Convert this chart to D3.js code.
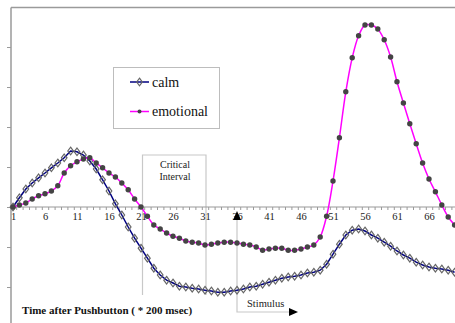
<!DOCTYPE html>
<html>
<head>
<meta charset="utf-8">
<script src="https://cdn.jsdelivr.net/npm/d3@7"></script>
<style>
html,body{margin:0;padding:0;background:#fff;overflow:hidden;}
svg{display:block;}
svg text{font-family:"Liberation Serif","Times New Roman","DejaVu Serif",serif;}
</style>
</head>
<body>
<svg id="chart" width="455" height="323"></svg>
<script>
// ---- data ----
const categories = d3.range(1, 71);
const tickLabels = ["1","6","11","16","21","26","31","36","41","46","51","56","61","66"];
const calm = [0,0.23,0.45,0.6,0.73,0.85,0.98,1.1,1.23,1.4,
  1.38,1.3,1.15,0.95,0.68,0.4,0.08,-0.2,-0.5,-0.78,
  -1.03,-1.28,-1.53,-1.7,-1.83,-1.9,-1.98,-2.0,-2.03,-2.05,
  -2.08,-2.1,-2.13,-2.13,-2.1,-2.08,-2.05,-2.0,-1.98,-1.93,
  -1.88,-1.83,-1.78,-1.75,-1.73,-1.7,-1.65,-1.63,-1.58,-1.43,
  -1.18,-0.93,-0.7,-0.58,-0.55,-0.6,-0.7,-0.78,-0.88,-0.98,
  -1.1,-1.2,-1.28,-1.38,-1.45,-1.5,-1.53,-1.55,-1.58,-1.63];
const emotional = [0,0.05,0.1,0.2,0.28,0.33,0.4,0.53,0.85,1.03,
  1.13,1.2,1.23,1.1,0.98,0.85,0.75,0.6,0.43,0.2,
  0,-0.23,-0.45,-0.55,-0.65,-0.73,-0.78,-0.85,-0.88,-0.9,
  -0.95,-0.93,-0.9,-0.88,-0.88,-0.9,-0.93,-0.95,-1.0,-1.08,
  -1.05,-1.03,-1.03,-1.08,-1.08,-1.05,-1.0,-0.95,-0.75,-0.23,
  0.65,1.73,2.88,3.73,4.28,4.55,4.55,4.45,4.18,3.75,
  3.13,2.6,2.08,1.58,1.1,0.7,0.38,0.05,-0.25,-0.45];
const yTicks = [-2,-1,0,1,2,3,4];
const seriesNames = ["calm","emotional"];
const criticalStart = 21, criticalEnd = 31, stimulusAt = 36;

// ---- scales ----
const svg = d3.select("#chart");
const x = d3.scaleLinear().domain([1, 70]).range([13, 454.6]);
const y = d3.scaleLinear().domain([-2.9, 5]).range([323, 7]);
const serif = '"Liberation Serif","Times New Roman","DejaVu Serif",serif';
const axisGray = "#9a9a9a";

function txt(sel) { return sel.style("font-family", serif); }

// frame: top border
svg.append("line").attr("x1", 11).attr("x2", 455).attr("y1", 7.5).attr("y2", 7.5)
  .attr("stroke", axisGray).attr("stroke-width", 1.5);

// y axis
const yAxis = svg.append("g").attr("transform", "translate(11,0)")
  .call(d3.axisLeft(y).tickValues(yTicks).tickSize(4).tickFormat(""));
yAxis.select(".domain").attr("stroke", axisGray).attr("stroke-width", 1.5).attr("d", "M0,7.5V323");
yAxis.selectAll(".tick line").attr("stroke", axisGray);

// critical interval box
svg.append("path")
  .attr("d", `M${x(criticalStart)+1.5},295V155H${x(criticalEnd)+1}V295`)
  .attr("fill", "none").attr("stroke", "#c8c8c8").attr("stroke-width", 1.2);
txt(svg.append("text").attr("x", (x(criticalStart)+x(criticalEnd))/2 + 2).attr("y", 168)
  .attr("text-anchor", "middle").attr("font-size", 10)
  .attr("fill", "#222").text("Critical"));
txt(svg.append("text").attr("x", (x(criticalStart)+x(criticalEnd))/2 + 2).attr("y", 180)
  .attr("text-anchor", "middle").attr("font-size", 10)
  .attr("fill", "#222").text("Interval"));

// x axis
const xAxisMinor = svg.append("g").attr("transform", `translate(0,${y(0)})`)
  .call(d3.axisBottom(x).tickValues(categories.map(c => c + 0.5)).tickSize(3).tickFormat(""));
xAxisMinor.select(".domain").attr("stroke", axisGray).attr("stroke-width", 1.2).attr("d", "M11,0H455");
xAxisMinor.selectAll(".tick line").attr("stroke", axisGray);
const xAxisLab = svg.append("g").attr("transform", `translate(0,${y(0)})`)
  .call(d3.axisBottom(x).tickValues(tickLabels.map(Number)).tickSize(0).tickPadding(6)
    .tickFormat((d, i) => tickLabels[i]));
xAxisLab.attr("font-family", null);
xAxisLab.select(".domain").remove();
txt(xAxisLab.selectAll("text")).attr("font-size", 10.5).attr("fill", "#222");

// stimulus marker
const sx = x(stimulusAt);
svg.append("path").attr("d", `M${sx},220V312H291`)
  .attr("fill", "none").attr("stroke", "#c8c8c8").attr("stroke-width", 1.2);
svg.append("path").attr("d", `M${sx},211L${sx+4},220L${sx-4},220Z`).attr("fill", "#000");
svg.append("path").attr("d", `M298,312L289,308L289,316Z`).attr("fill", "#000");
txt(svg.append("text").attr("x", 247).attr("y", 307).attr("font-size", 10.5)
  .attr("fill", "#222").text("Stimulus"));

// lines
const calmLine = d3.line().x((d, i) => x(categories[i])).y(d => y(d));
const emoLine = d3.line().x((d, i) => x(categories[i])).y(d => y(d)).curve(d3.curveCatmullRom.alpha(0.5));

const diamond = "M0,-3.8L2.8,0L0,3.8L-2.8,0Z";

svg.append("path").datum(calm).attr("d", calmLine)
  .attr("fill", "none").attr("stroke", "#000080").attr("stroke-width", 1.5);
svg.append("g").selectAll("path").data(calm).join("path")
  .attr("d", diamond)
  .attr("transform", (d, i) => `translate(${x(categories[i])},${y(d)})`)
  .attr("fill", "none").attr("stroke", "#666").attr("stroke-width", 1.2);

svg.append("path").datum(emotional).attr("d", emoLine)
  .attr("fill", "none").attr("stroke", "#ff00ff").attr("stroke-width", 1.5);
svg.append("g").selectAll("circle").data(emotional).join("circle")
  .attr("cx", (d, i) => x(categories[i])).attr("cy", d => y(d)).attr("r", 2.7)
  .attr("fill", "#444");

// legend
const lg = svg.append("g");
lg.append("rect").attr("x", 113.5).attr("y", 67.5).attr("width", 106).attr("height", 61)
  .attr("fill", "#fff").attr("stroke", "#bdbdbd").attr("stroke-width", 1);
lg.append("line").attr("x1", 130).attr("x2", 149).attr("y1", 82).attr("y2", 82)
  .attr("stroke", "#000080").attr("stroke-width", 1.5);
lg.append("path").attr("d", diamond).attr("transform", "translate(139.5,82)")
  .attr("fill", "none").attr("stroke", "#666").attr("stroke-width", 1.2);
txt(lg.append("text").attr("x", 152).attr("y", 87).attr("font-size", 14)
  .attr("fill", "#111").text(seriesNames[0]));
lg.append("line").attr("x1", 130).attr("x2", 149).attr("y1", 111.5).attr("y2", 111.5)
  .attr("stroke", "#ff00ff").attr("stroke-width", 1.5);
lg.append("circle").attr("cx", 139.5).attr("cy", 111.5).attr("r", 2).attr("fill", "#444");
txt(lg.append("text").attr("x", 152).attr("y", 116).attr("font-size", 14)
  .attr("fill", "#111").text(seriesNames[1]));

// axis title
txt(svg.append("text").attr("x", 22).attr("y", 314).attr("font-size", 11)
  .attr("font-weight", "bold").attr("fill", "#111").text("Time after Pushbutton ( * 200 msec)"));
</script>
</body>
</html>
